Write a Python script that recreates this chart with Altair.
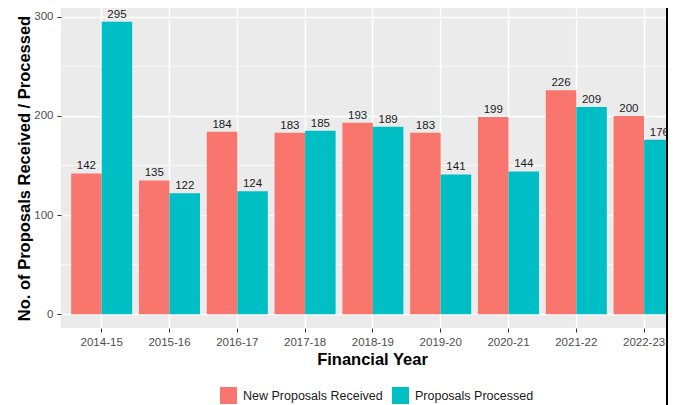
import altair as alt
import pandas as pd

years = ["2014-15", "2015-16", "2016-17", "2017-18", "2018-19",
         "2019-20", "2020-21", "2021-22", "2022-23"]
received = [142, 135, 184, 183, 193, 183, 199, 226, 200]
processed = [295, 122, 124, 185, 189, 141, 144, 209, 176]
series = ["New Proposals Received", "Proposals Processed"]
colors = ["#F8766D", "#00BFC4"]
minor_ticks = [50, 150, 250]
major_ticks = [0, 100, 200, 300]

rows = []
for y, r, p in zip(years, received, processed):
    rows.append({"year": y, "series": series[0], "value": r})
    rows.append({"year": y, "series": series[1], "value": p})
df = pd.DataFrame(rows)
minor_df = pd.DataFrame({"v": minor_ticks})

FONT = "Liberation Sans, Arial"

yscale = alt.Scale(domain=[-13.8, 308.8], nice=False, zero=False)
xscale = alt.Scale(domain=years, range=[0, 623.8], paddingInner=0.1, paddingOuter=0.15)

xenc = alt.X("year:N", sort=years, scale=xscale,
             axis=alt.Axis(title="Financial Year", titleFont=FONT, titleFontSize=16.5,
                           titleFontWeight="bold", titleColor="#000000", titlePadding=4,
                           titleX=311, labelFont=FONT, labelFontSize=11.5,
                           labelColor="#4D4D4D", labelAngle=0, labelPadding=4, tickSize=4,
                           tickColor="#333333", tickWidth=1, domain=False, grid=True,
                           gridColor="#FFFFFF", gridWidth=1.5, bandPosition=0.5))
xoff = alt.XOffset("series:N", sort=series,
                   scale=alt.Scale(domain=series, paddingInner=0, paddingOuter=0))
yenc = alt.Y("value:Q", scale=yscale, stack=None,
             axis=alt.Axis(title="No. of Proposals Received / Processed", titleFont=FONT,
                           titleFontSize=16.5, titleFontWeight="bold", titleColor="#000000",
                           titlePadding=1, values=major_ticks, labelFont=FONT,
                           labelFontSize=11.5, labelColor="#4D4D4D", labelPadding=4,
                           tickSize=4, tickColor="#333333", domain=False, grid=True,
                           gridColor="#FFFFFF", gridWidth=1.5))

minor = alt.Chart(minor_df).mark_rule(color="#FFFFFF", strokeWidth=0.75).encode(
    y=alt.Y("v:Q", scale=yscale))

bars = alt.Chart(df).mark_bar().encode(
    x=xenc, xOffset=xoff, y=yenc, y2=alt.datum(0),
    color=alt.Color("series:N", sort=series,
                    scale=alt.Scale(domain=series, range=colors),
                    legend=alt.Legend(title=None, orient="none", legendX=159, legendY=379,
                                      direction="horizontal", symbolType="square",
                                      symbolSize=289, symbolStrokeWidth=0, symbolOpacity=1,
                                      labelFont=FONT, labelFontSize=12.5,
                                      labelColor="#1A1A1A", labelOffset=6, labelLimit=0,
                                      columnPadding=9, padding=0)))

labels = alt.Chart(df).mark_text(baseline="alphabetic", dy=-4, font=FONT,
                                 fontSize=11.5, color="#1A1A1A").encode(
    x=alt.X("year:N", sort=years, scale=xscale), xOffset=xoff,
    y=alt.Y("value:Q", scale=yscale), text=alt.Text("value:Q"))

edge = alt.Chart(df).mark_rule(color="#000000", strokeWidth=2).encode(
    x=alt.value(606), y=alt.value(-10), y2=alt.value(400))

chart = alt.layer(minor, bars, labels, edge).properties(
    width=607, height=320,
    autosize=alt.AutoSizeParams(type="none"),
    padding={"left": 53, "top": 0, "right": 0, "bottom": 77},
    background="#FFFFFF",
).configure_view(fill="#EBEBEB", stroke=None)

chart.save("out.html", embed_options={"renderer": "svg", "actions": False})
